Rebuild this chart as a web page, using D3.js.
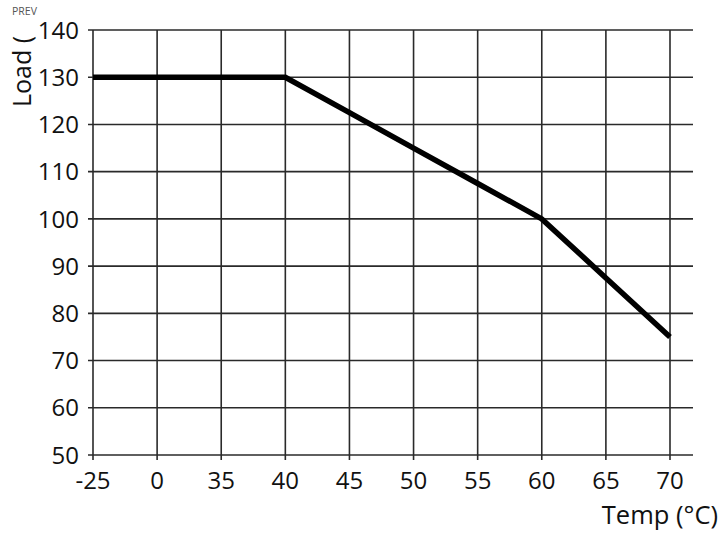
<!DOCTYPE html>
<html>
<head>
<meta charset="utf-8">
<script src="https://cdn.jsdelivr.net/npm/d3@7"></script>
<style>
  html, body { margin: 0; padding: 0; background: #fff; }
  svg { display: block; }
  text { font-family: "Open Sans", "Noto Sans", sans-serif; fill: #111; }
</style>
</head>
<body>
<svg id="chart" width="720" height="538"></svg>
<script>
const temps = ["-25", "0", "35", "40", "45", "50", "55", "60", "65", "70"];
const loads = [130, 130, 130, 130, 122.5, 115, 107.5, 100, 87.5, 75];
const yTicks = [50, 60, 70, 80, 90, 100, 110, 120, 130, 140];
const xTitle = "Temp (°C)";
const yTitle = "Load (";

const svg = d3.select("#chart");
const x = d3.scalePoint().domain(temps).range([93, 670]);
const y = d3.scaleLinear().domain([50, 140]).range([455, 30]);

const gridColor = "#2a2a2a";

// horizontal grid lines
svg.append("g").selectAll("line").data(yTicks).join("line")
  .attr("x1", 88).attr("x2", 693)
  .attr("y1", d => y(d)).attr("y2", d => y(d))
  .attr("stroke", gridColor).attr("stroke-width", 1.6);

// vertical grid lines
svg.append("g").selectAll("line").data(temps).join("line")
  .attr("x1", d => x(d)).attr("x2", d => x(d))
  .attr("y1", y(140)).attr("y2", y(50) + 5)
  .attr("stroke", gridColor).attr("stroke-width", 1.6);

// y tick labels
svg.append("g").selectAll("text").data(yTicks).join("text")
  .attr("x", 79).attr("y", d => y(d))
  .attr("dy", "0.36em")
  .attr("text-anchor", "end")
  .attr("font-size", 24)
  .text(d => d);

// x tick labels
svg.append("g").selectAll("text").data(temps).join("text")
  .attr("x", d => x(d)).attr("y", 489)
  .attr("text-anchor", "middle")
  .attr("font-size", 24)
  .text(d => d);

// data line
const line = d3.line()
  .x((d, i) => x(temps[i]))
  .y(d => y(d));
svg.append("path")
  .datum(loads)
  .attr("d", line)
  .attr("fill", "none")
  .attr("stroke", "#000")
  .attr("stroke-width", 5.5)
  .attr("stroke-linejoin", "miter");

// axis titles
svg.append("text")
  .attr("x", 718).attr("y", 524)
  .attr("text-anchor", "end")
  .attr("font-size", 25.5)
  .text(xTitle);

svg.append("text")
  .attr("transform", "translate(31,107) rotate(-90)")
  .attr("text-anchor", "start")
  .attr("font-size", 25)
  .text(yTitle);

svg.append("text")
  .attr("x", 12).attr("y", 15)
  .attr("font-size", 10.5)
  .style("fill", "#555")
  .text("PREV");
</script>
</body>
</html>
